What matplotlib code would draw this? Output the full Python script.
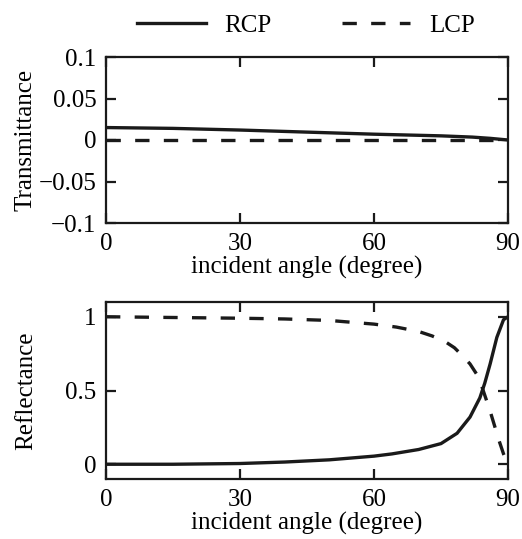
import matplotlib
matplotlib.use("Agg")
import matplotlib.pyplot as plt

plt.rcParams['font.family'] = ['Liberation Serif', 'DejaVu Serif']

# transmittance
t_angle = [0, 15, 30, 45, 60, 75, 82, 86, 90]
t_rcp = [0.015, 0.014, 0.012, 0.0095, 0.007, 0.005, 0.0035, 0.002, 0.0]
t_lcp = [0, 0, 0, 0, 0, 0, 0, 0, 0]

# reflectance
r_rcp_angle = [0, 15, 30, 40, 50, 60, 64, 70, 75, 78.6, 81.5, 83.7, 84.8, 86, 87.5, 89, 90]
r_rcp = [0.0, 0.0, 0.005, 0.015, 0.03, 0.055, 0.07, 0.1, 0.14, 0.21, 0.32, 0.45, 0.55, 0.68, 0.86, 0.98, 1.0]
r_lcp_angle = [0, 15, 30, 40, 50, 60, 65, 70, 73, 76, 78, 80, 81.5, 83, 84, 85, 86, 87, 88, 89, 90]
r_lcp = [1.0, 0.995, 0.99, 0.985, 0.975, 0.95, 0.93, 0.9, 0.87, 0.83, 0.79, 0.73, 0.68, 0.61, 0.54, 0.45, 0.36, 0.26, 0.16, 0.07, 0.0]

fig = plt.figure(figsize=(5.22, 5.39), dpi=100)
ax1 = fig.add_axes([106/522, 1-223/539, 402/522, 166/539])
ax2 = fig.add_axes([106/522, 1-479/539, 402/522, 177/539])

lw = 2.4
dash = (4.3, 4.3)
fs = 18

ax1.plot(t_angle, t_rcp, color='#1a1a1a', lw=lw, label='RCP')
ax1.plot(t_angle, t_lcp, color='#1a1a1a', lw=lw, dashes=dash, label='LCP')
ax1.set_ylim(-0.1, 0.1)
ax1.set_yticks([-0.1, -0.05, 0, 0.05, 0.1])
ax1.set_yticklabels(['\u22120.1', '\u22120.05', '0', '0.05', '0.1'])
ax1.set_ylabel('Transmittance', fontsize=fs)

ax2.plot(r_rcp_angle, r_rcp, color='#1a1a1a', lw=lw)
ax2.plot(r_lcp_angle, r_lcp, color='#1a1a1a', lw=lw, dashes=dash)
ax2.set_ylim(-0.1, 1.1)
ax2.set_yticks([0, 0.5, 1])
ax2.set_yticklabels(['0', '0.5', '1'])
ax2.set_ylabel('Reflectance', fontsize=fs)

for ax in (ax1, ax2):
    ax.set_xlim(0, 90)
    ax.set_xticks([0, 30, 60, 90])
    ax.set_xlabel('incident angle (degree)', fontsize=fs, labelpad=1)
    ax.yaxis.set_label_coords(-0.172, 0.5)
    ax.tick_params(direction='in', length=7, width=1.6, top=True, right=True,
                   labelsize=fs, pad=7, color='#1a1a1a')
    for s in ax.spines.values():
        s.set_linewidth(1.6)
        s.set_color('#1a1a1a')

fig.legend(loc='upper center', bbox_to_anchor=(0.586, 1.015), ncol=2, frameon=False,
           fontsize=fs, handlelength=2.75, columnspacing=2.8, handletextpad=0.75)

fig.savefig('out.png', dpi=100)
